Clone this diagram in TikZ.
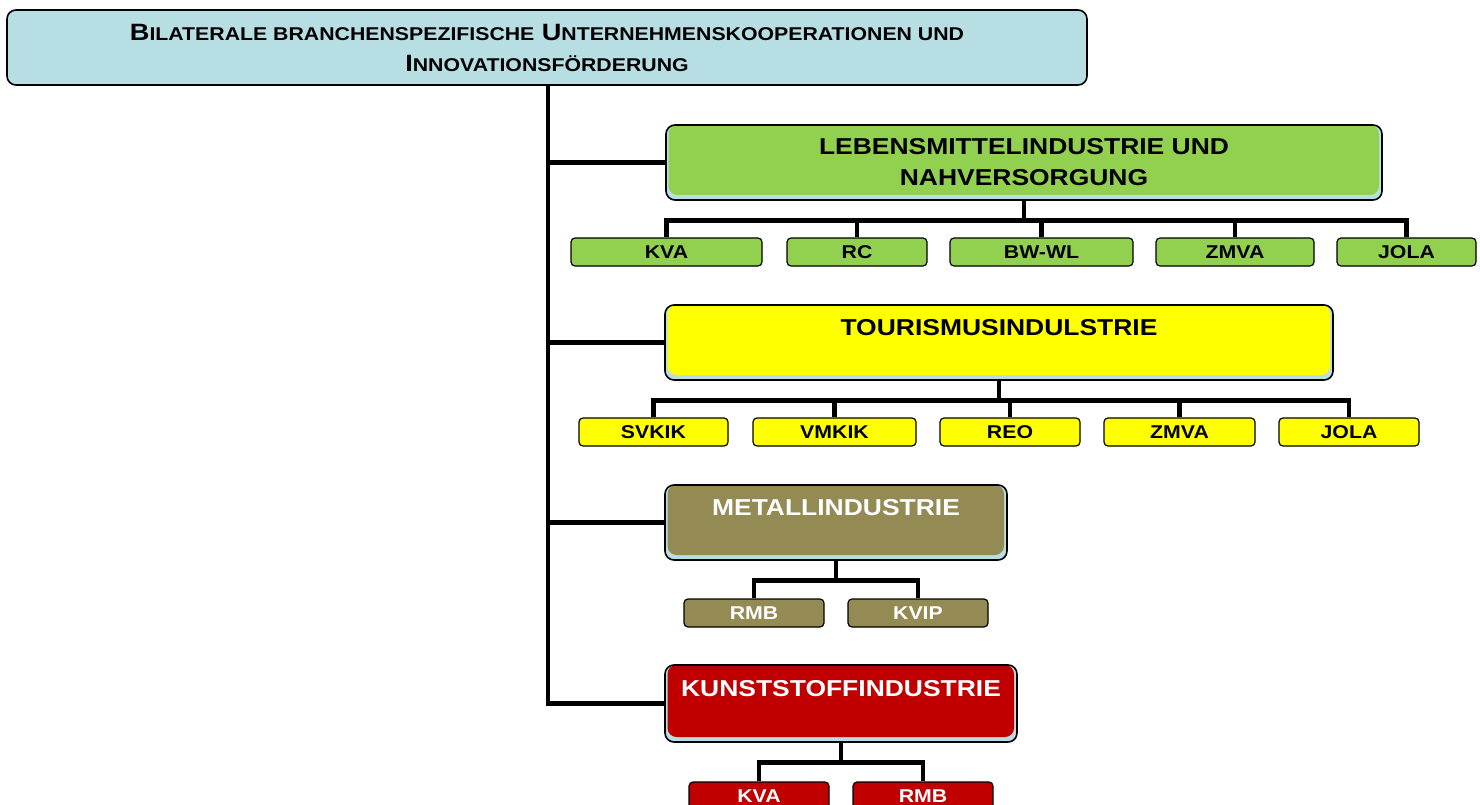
\documentclass[tikz,border=0pt]{standalone}
\usepackage{fontspec}
\setmainfont[FakeStretch=1.15]{Liberation Sans}
\usetikzlibrary{positioning,calc}
\definecolor{skyBand}{HTML}{B7DEE3}
\definecolor{foodGreen}{HTML}{92D050}
\definecolor{tourYellow}{HTML}{FFFF00}
\definecolor{metalOlive}{HTML}{948A54}
\definecolor{plasticRed}{HTML}{C00000}
\newcommand\capinit[2]{{\fontsize{23.6}{30}\selectfont #1}{\fontsize{18.5}{30}\selectfont #2}}

\begin{document}
\begin{tikzpicture}[x=1pt, y=-1pt,
    sector/.style={rectangle, rounded corners=9pt, draw=black, line width=1.6pt,
                   fill=skyBand, inner sep=0pt, align=center,
                   font=\fontsize{23}{31}\selectfont\bfseries,
                   path picture={\fill[#1] ([xshift=2.5pt,yshift=5pt]path picture bounding box.south west)
                                 rectangle ([xshift=-3pt]path picture bounding box.north east);}},
    unit/.style={rectangle, rounded corners=4pt, draw=black, line width=1.2pt, fill=#1,
                 inner sep=0pt, minimum height=28pt, font=\fontsize{18.5}{20}\selectfont\bfseries},
    link/.style={line width=4.8pt, black},
]
    \useasboundingbox (0,0) rectangle (1480,805);

    % top box
    \node[sector=skyBand, minimum width=1080pt, minimum height=75pt] (root) at (547,47.5)
        {\capinit{B}{ILATERALE BRANCHENSPEZIFISCHE} \capinit{U}{NTERNEHMENSKOOPERATIONEN UND}\\
         \capinit{I}{NNOVATIONSFÖRDERUNG}};

    % sectors
    \node[sector=foodGreen, minimum width=716pt, minimum height=75pt] (food) at (1024,162.5)
        {LEBENSMITTELINDUSTRIE UND\\NAHVERSORGUNG};
    \node[sector=tourYellow, minimum width=668pt, minimum height=75pt] (tour) at (999,342.5)
        {TOURISMUSINDULSTRIE\\\mbox{}};
    \node[sector=metalOlive, text=white, minimum width=342pt, minimum height=75pt] (metal) at (836,522.5)
        {METALLINDUSTRIE\\\mbox{}};
    \node[sector=plasticRed, text=white, minimum width=352pt, minimum height=77pt] (plastic) at (841,703.5)
        {KUNSTSTOFFINDUSTRIE\\\mbox{}};

    % partners
    \node[unit=foodGreen, minimum width=191pt] (food1) at (666.5,252) {KVA};
    \node[unit=foodGreen, minimum width=140pt] (food2) at (857,252) {RC};
    \node[unit=foodGreen, minimum width=183pt] (food3) at (1041.5,252) {BW-WL};
    \node[unit=foodGreen, minimum width=158pt] (food4) at (1235,252) {ZMVA};
    \node[unit=foodGreen, minimum width=139pt] (food5) at (1406.5,252) {JOLA};

    \node[unit=tourYellow, minimum width=149pt] (tour1) at (653.5,432) {SVKIK};
    \node[unit=tourYellow, minimum width=163pt] (tour2) at (834.5,432) {VMKIK};
    \node[unit=tourYellow, minimum width=140pt] (tour3) at (1010,432) {REO};
    \node[unit=tourYellow, minimum width=151pt] (tour4) at (1179.5,432) {ZMVA};
    \node[unit=tourYellow, minimum width=140pt] (tour5) at (1349,432) {JOLA};

    \node[unit=metalOlive, text=white, minimum width=140pt] (metal1) at (754,613) {RMB};
    \node[unit=metalOlive, text=white, minimum width=140pt] (metal2) at (918,613) {KVIP};

    \node[unit=plasticRed, text=white, minimum width=140pt] (plastic1) at (759,796) {KVA};
    \node[unit=plasticRed, text=white, minimum width=140pt] (plastic2) at (923,796) {RMB};

    % trunk and branches
    \coordinate (trunk) at (548,0);
    \draw[link] (trunk |- root.south) -- (trunk |- plastic.west) -- (plastic.west);
    \foreach \s in {food,tour,metal}
        \draw[link] (trunk |- \s.west) -- (\s.west);

    \foreach \u in {food1,food2,food3,food4,food5}
        \draw[link] (food.south) -- ++(0,20) -| (\u.north);
    \foreach \u in {tour1,tour2,tour3,tour4,tour5}
        \draw[link] (tour.south) -- ++(0,20) -| (\u.north);
    \foreach \u in {metal1,metal2}
        \draw[link] (metal.south) -- ++(0,20) -| (\u.north);
    \foreach \u in {plastic1,plastic2}
        \draw[link] (plastic.south) -- ++(0,20) -| (\u.north);
\end{tikzpicture}
\end{document}
